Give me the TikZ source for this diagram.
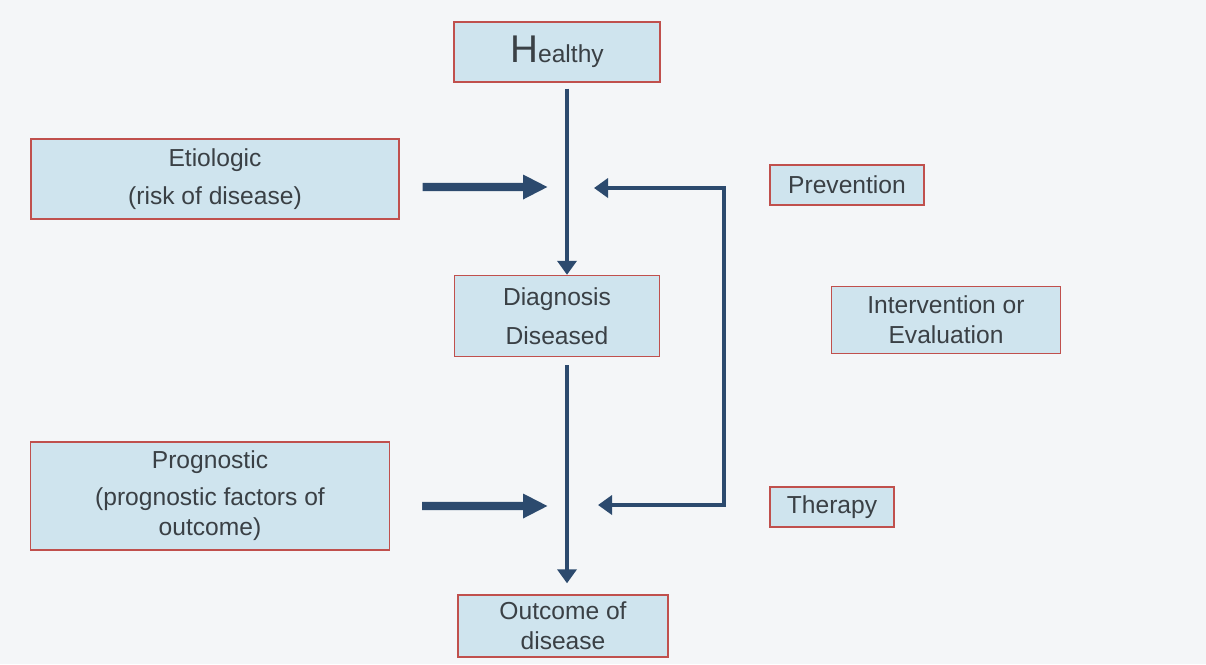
\documentclass[tikz,border=0pt]{standalone}
\usepackage{fontspec}
\setmainfont{Liberation Sans}
\usetikzlibrary{arrows.meta}

\definecolor{boxfill}{HTML}{CFE4EE}
\definecolor{boxline}{HTML}{C0504D}
\definecolor{boxtext}{HTML}{3A4045}
\definecolor{navy}{HTML}{2C4A6E}
\definecolor{paper}{HTML}{F4F6F8}

\begin{document}
\begin{tikzpicture}[
        x=0.02cm, y=-0.02cm,
        stage/.style={rectangle, draw=boxline, line width=0.8pt, fill=boxfill, text=boxtext, align=center, inner sep=0pt, font=\fontsize{14}{17}\selectfont},
        flow/.style={draw=navy, line width=2.3pt, -{Triangle[length=0.28cm,width=0.38cm]}},
        feed/.style={draw=navy, line width=2.3pt, {Triangle[length=0.28cm,width=0.38cm]}-{Triangle[length=0.28cm,width=0.38cm]}},
        push/.style={draw=navy, line width=4.6pt, -{Triangle[length=0.5cm,width=0.46cm]}}
    ]

    % Fondo
    \fill[paper] (0,0) rectangle (1206,664);
    \useasboundingbox (0,0) rectangle (1206,664);

    % Etapas
    \node[stage, minimum width=4.12cm, minimum height=1.2cm] (healthy) at (557,52) {{\fontsize{22}{24}\selectfont H}ealthy};
    \node[stage, minimum width=4.1cm, minimum height=1.62cm] (diag) at (557,316) {Diagnosis\\[5pt]Diseased};
    \node[stage, minimum width=4.2cm, minimum height=1.24cm] (outcome) at (563,626) {Outcome of\\disease};

    % Factores
    \node[stage, minimum width=7.36cm, minimum height=1.6cm] (etio) at (215,179) {Etiologic\\[5pt](risk of disease)};
    \node[stage, minimum width=7.18cm, minimum height=2.16cm] (progn) at (210,496) {Prognostic\\[4pt](prognostic factors of\\outcome)};

    % Intervenciones
    \node[stage, minimum width=3.08cm, minimum height=0.8cm] (prev) at (847,185) {Prevention};
    \node[stage, minimum width=4.58cm, minimum height=1.34cm] (interv) at (946,320) {Intervention or\\Evaluation};
    \node[stage, minimum width=2.48cm, minimum height=0.8cm] (therapy) at (832,507) {Therapy};

    % Curso
    \coordinate (healthyout) at ([xshift=0.2cm,yshift=-0.12cm]healthy.south);
    \coordinate (diagout) at ([xshift=0.2cm,yshift=-0.16cm]diag.south);
    \coordinate (outin) at ([yshift=0.22cm]outcome.north);
    \draw[flow] (healthyout) -- (healthyout |- diag.north);
    \draw[flow] (diagout) -- (diagout |- outin);

    % Flechas de factores
    \coordinate (etiotip) at (548,187);
    \coordinate (progtip) at (548,506);
    \draw[push] ([xshift=0.46cm,yshift=-0.16cm]etio.east) -- (etiotip);
    \draw[push] ([xshift=0.64cm,yshift=-0.2cm]progn.east) -- (progtip);

    % Retroalimentacion
    \coordinate (fbtop) at (594,188);
    \coordinate (fbright) at (724,346);
    \coordinate (fbbot) at (598,505);
    \draw[feed] (fbtop) -| (fbright) |- (fbbot);

\end{tikzpicture}
\end{document}
